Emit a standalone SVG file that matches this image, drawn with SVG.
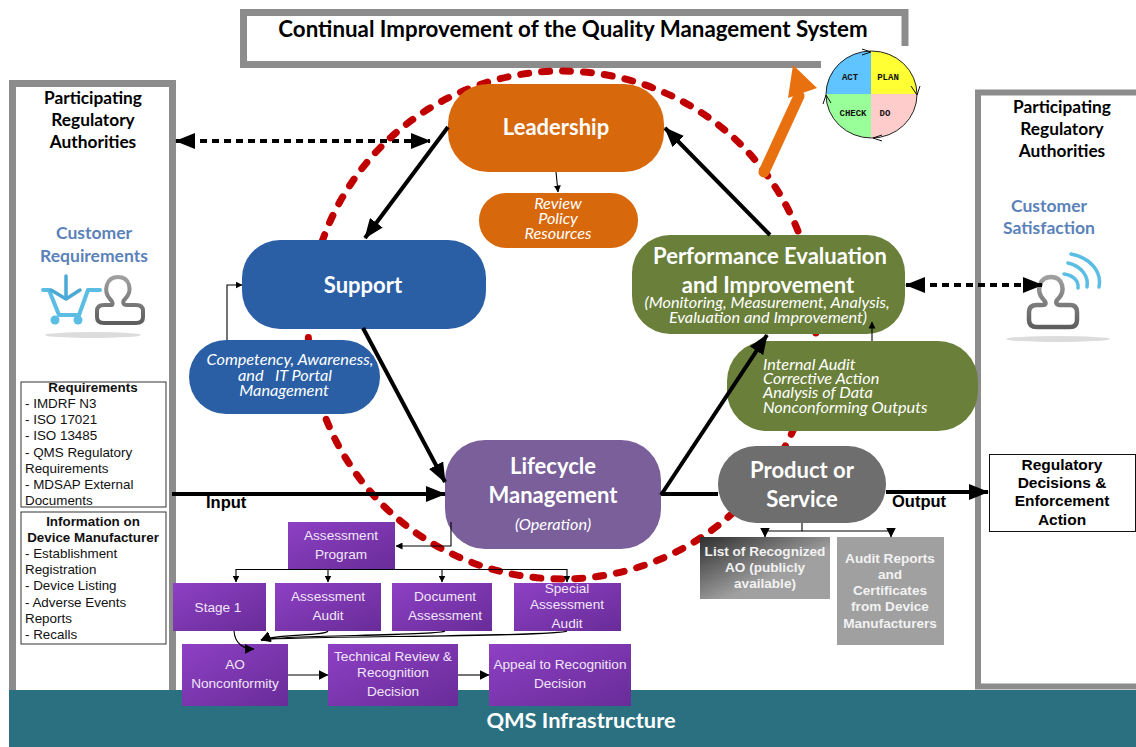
<svg xmlns="http://www.w3.org/2000/svg" width="1136" height="747" viewBox="0 0 1136 747">
<style>
.c{font-family:Lato,"Open Sans",sans-serif;text-anchor:middle}
.a{font-family:"Liberation Sans",Arial,sans-serif}
.m{text-anchor:middle}
.b{font-weight:700}
.i{font-style:italic;font-size:16.300px;fill:#fff}
.big{font-weight:700;font-size:22px;fill:#fff}
.blue{font-weight:700;font-size:17.500px;fill:#5b82b8}
.reg{font-weight:700;font-size:17.300px;fill:#000}
.box{fill:url(#pg)}
.pt{font-size:13.600px;fill:#f0e6f8;text-anchor:middle}
.lst{font-size:13.400px;fill:#111}
.frame{fill:#fff;stroke:#8c8c8c;stroke-width:7}
.thick{stroke:#000;stroke-width:4;fill:none}
.thin{stroke:#000;stroke-width:1.100;fill:none}
.tb{fill:#fff;stroke:#333;stroke-width:1}
.pdca{font-family:"Liberation Mono",monospace;font-size:9px;font-weight:700;text-anchor:middle;fill:#111}
</style>
<defs>
<linearGradient id="pg" x1="0" y1="0" x2="1" y2="1"><stop offset="0" stop-color="#8e40c4"/><stop offset="1" stop-color="#682c98"/></linearGradient>
<linearGradient id="gg" x1="0" y1="0" x2="1" y2="1"><stop offset="0" stop-color="#2e2e2e"/><stop offset="0.6" stop-color="#a0a0a0"/><stop offset="1" stop-color="#a0a0a0"/></linearGradient>
<linearGradient id="pers" x1="0" y1="0" x2="0" y2="1"><stop offset="0" stop-color="#a0a0a0"/><stop offset="1" stop-color="#5e5e5e"/></linearGradient>
<marker id="big" markerUnits="userSpaceOnUse" viewBox="0 0 20 16" refX="19" refY="8" markerWidth="20" markerHeight="16" orient="auto-start-reverse"><path d="M0 0L20 8L0 16Z"/></marker>
<marker id="mid" markerUnits="userSpaceOnUse" viewBox="0 0 10 10" refX="9.500" refY="5" markerWidth="10" markerHeight="10" orient="auto-start-reverse"><path d="M0 0L10 5L0 10Z"/></marker>
<marker id="sm" markerUnits="userSpaceOnUse" viewBox="0 0 7 7" refX="6.500" refY="3.500" markerWidth="7" markerHeight="7" orient="auto"><path d="M0 0L7 3.500L0 7Z"/></marker>
</defs>
<rect width="1136" height="747" fill="#fff"/>
<g id="title"><path d="M905 46V12.500H243.500V64.500H821" fill="none" stroke="#8c8c8c" stroke-width="7"/>
<text class="c b" x="573" y="37" font-size="22.300">Continual Improvement of the Quality Management System</text></g>
<g id="left-panel"><rect class="frame" x="12.500" y="83.500" width="160" height="610"/>
<text class="c reg" x="93" y="104">Participating</text><text class="c reg" x="93" y="126">Regulatory</text><text class="c reg" x="93" y="148">Authorities</text>
<text class="c blue" x="94" y="239">Customer</text><text class="c blue" x="94" y="262">Requirements</text>
<ellipse cx="93" cy="335" rx="48" ry="3" fill="#dcdcdc"/>
<g fill="none" stroke-linecap="round" stroke-linejoin="round"><path d="M43 290H49L59 315H79L88 290H100" stroke="#5bbde4" stroke-width="4"/><path d="M66 276V296" stroke="#4aa9d6" stroke-width="3.500"/><path d="M51 290L66 299L80 290" stroke="#4aa9d6" stroke-width="3.500"/><path d="M112 305H104Q97 305 97 311V317Q97 323 104 323H136Q143 323 143 317V311Q143 305 136 305H127C123 305 122 302 125 299C133 291 130 277 118 277C106 277 103 291 110 299C113 302 114 305 110 305" stroke="url(#pers)" stroke-width="4"/></g>
<circle cx="55" cy="320" r="4.500" fill="#5bbde4"/><circle cx="78" cy="320" r="4.500" fill="#5bbde4"/></g>
<g id="right-panel"><path d="M1136 92.500H978V686.500H1136" fill="#fff" stroke="#8c8c8c" stroke-width="6"/>
<text class="c reg" x="1062" y="113">Participating</text><text class="c reg" x="1062" y="135">Regulatory</text><text class="c reg" x="1062" y="157">Authorities</text>
<text class="c blue" x="1049" y="212">Customer</text><text class="c blue" x="1049" y="234">Satisfaction</text>
<ellipse cx="1058" cy="339" rx="52" ry="3" fill="#dcdcdc"/>
<path d="M1042 305H1037Q1029 305 1029 312V320Q1029 327 1037 327H1070Q1077 327 1077 320V312Q1077 305 1070 305H1060C1056 305 1055 302 1058 299C1066 291 1063 277 1051 277C1039 277 1036 291 1043 299C1046 302 1047 305 1042 305" fill="none" stroke="url(#pers)" stroke-width="4.500" stroke-linejoin="round"/>
<g fill="none" stroke="#5bbde4" stroke-width="3.500" stroke-linecap="round"><path d="M1064 274C1073 275 1079 281 1078 288"/><path d="M1068 263C1081 266 1089 276 1087 287"/><path d="M1071 254C1091 258 1102 272 1099 287"/></g></g>
<rect id="infrastructure-band" x="9" y="690" width="1127" height="57" fill="#2a7080"/>
<g id="pdca"><path d="M871 94V51A45 43 0 0 0 826 94Z" fill="#5fc4ff"/><path d="M871 94V51A45 43 0 0 1 917 94Z" fill="#ffff33"/><path d="M871 94V138A45 44 0 0 1 826 94Z" fill="#99ff99"/><path d="M871 94V138A46 44 0 0 0 917 94Z" fill="#ffcccc"/>
<ellipse cx="871.500" cy="94.500" rx="45.500" ry="43.500" fill="none" stroke="#222" stroke-width="1"/>
<path d="M862 49L871 52L862 55M911 86L917 95L920 86M882 135L873 138L882 141M823 104L826 95L831 103" fill="none" stroke="#111" stroke-width="1"/>
<text class="pdca" x="850" y="80">ACT</text><text class="pdca" x="888" y="80">PLAN</text><text class="pdca" x="853" y="116">CHECK</text><text class="pdca" x="885" y="116">DO</text></g>
<g id="connectors-back"><path class="thick" stroke-dasharray="7 5" d="M176 141H430" marker-start="url(#big)" marker-end="url(#big)"/>
<circle cx="562" cy="325" r="254" fill="none" stroke="#c00000" stroke-width="7" stroke-dasharray="8 13" stroke-linecap="round"/></g>
<g id="pdca-arrow"><line x1="764" y1="172" x2="799" y2="96" stroke="#e9700f" stroke-width="11" stroke-linecap="round"/><path d="M793 65L817 88L788 98Z" fill="#e9700f"/></g>
<g id="leadership"><rect x="448" y="84" width="216" height="88" rx="40" fill="#d8680c"/><text class="c big" x="556" y="135">Leadership</text></g>
<g id="review"><rect x="479" y="193" width="159" height="55" rx="27" fill="#d8680c"/><text class="c i" x="558" y="209">Review</text><text class="c i" x="558" y="224">Policy</text><text class="c i" x="558" y="239">Resources</text></g>
<g id="support"><rect x="242" y="240" width="244" height="89" rx="38" fill="#2a5fa6"/><text class="c big" x="363" y="293">Support</text></g>
<g id="competency"><rect x="189" y="340" width="191" height="74" rx="37" fill="#2a5fa6"/><text class="c i" x="290" y="365">Competency, Awareness,</text><text class="c i" x="285" y="381" xml:space="preserve">and   IT Portal</text><text class="c i" x="284" y="396">Management</text></g>
<g id="performance"><rect x="632" y="235" width="273" height="99" rx="38" fill="#6a7f3a"/><text class="c big" x="770" y="264">Performance Evaluation</text><text class="c big" x="768" y="293">and Improvement</text><text class="c i" x="767" y="308">(Monitoring, Measurement, Analysis,</text><text class="c i" x="768" y="323">Evaluation and Improvement)</text></g>
<g id="internal-audit"><rect x="727" y="341" width="251" height="90" rx="40" fill="#6a7f3a"/><g class="i" font-family="Lato,sans-serif"><text x="763" y="370">Internal Audit</text><text x="763" y="384">Corrective Action</text><text x="763" y="398">Analysis of Data</text><text x="763" y="413">Nonconforming Outputs</text></g></g>
<g id="lifecycle"><rect x="445" y="440" width="216" height="109" rx="40" fill="#7a5f9a"/><text class="c big" x="553" y="474">Lifecycle</text><text class="c big" x="553" y="503">Management</text><text class="c i" x="553" y="530">(Operation)</text></g>
<g id="product"><rect x="718" y="446" width="168" height="77" rx="38" fill="#6e6e6e"/><text class="c big" x="802" y="478">Product or</text><text class="c big" x="802" y="507">Service</text></g>
<text class="c" x="581" y="728" font-size="21.800" font-weight="700" fill="#fff">QMS Infrastructure</text>
<g id="requirements"><rect class="tb" x="21" y="382" width="145" height="125"/><g class="a lst"><text class="b m" x="93" y="392">Requirements</text><text x="25" y="408">- IMDRF N3</text><text x="25" y="424">- ISO 17021</text><text x="25" y="440">- ISO 13485</text><text x="25" y="457">- QMS Regulatory</text><text x="25" y="473">Requirements</text><text x="25" y="489">- MDSAP External</text><text x="25" y="505">Documents</text></g></g>
<g id="information"><rect class="tb" x="21" y="512" width="145" height="132"/><g class="a lst"><text class="b m" x="93" y="526">Information on</text><text class="b m" x="93" y="542">Device Manufacturer</text><text x="25" y="558">- Establishment</text><text x="25" y="574">Registration</text><text x="25" y="590">- Device Listing</text><text x="25" y="607">- Adverse Events</text><text x="25" y="623">Reports</text><text x="25" y="639">- Recalls</text></g></g>
<g id="assessment-program"><rect class="box" x="288" y="522" width="107" height="48"/><g class="a pt"><text x="341" y="540">Assessment</text><text x="341" y="559">Program</text></g></g>
<g id="stage-1"><rect class="box" x="173" y="583" width="93" height="48"/><text class="a pt" x="218" y="612">Stage 1</text></g>
<g id="assessment-audit"><rect class="box" x="275" y="583" width="106" height="48"/><g class="a pt"><text x="328" y="601">Assessment</text><text x="328" y="620">Audit</text></g></g>
<g id="document-assessment"><rect class="box" x="392" y="583" width="100" height="48"/><g class="a pt"><text x="445" y="601">Document</text><text x="445" y="620">Assessment</text></g></g>
<g id="special-audit"><rect class="box" x="514" y="583" width="107" height="48"/><g class="a pt"><text x="567" y="593">Special</text><text x="567" y="609">Assessment</text><text x="567" y="628">Audit</text></g></g>
<g id="ao-nonconformity"><rect class="box" x="182" y="644" width="106" height="62"/><g class="a pt"><text x="235" y="669">AO</text><text x="235" y="688">Nonconformity</text></g></g>
<g id="technical-review"><rect class="box" x="328" y="644" width="130" height="62"/><g class="a pt"><text x="393" y="661">Technical Review &amp;</text><text x="393" y="677">Recognition</text><text x="393" y="696">Decision</text></g></g>
<g id="appeal"><rect class="box" x="489" y="644" width="142" height="62"/><g class="a pt"><text x="560" y="669">Appeal to Recognition</text><text x="560" y="688">Decision</text></g></g>
<g id="list-ao"><rect x="700" y="537" width="130" height="62" fill="url(#gg)"/><g class="a m b" font-size="13.600" fill="#f2f2f2"><text x="765" y="556">List of Recognized</text><text x="765" y="572">AO (publicly</text><text x="765" y="588">available)</text></g></g>
<g id="audit-reports"><rect x="837" y="537" width="107" height="108" fill="#a0a0a0"/><g class="a m b" font-size="13.600" fill="#f2f2f2"><text x="890" y="563">Audit Reports</text><text x="890" y="579">and</text><text x="890" y="595">Certificates</text><text x="890" y="611">from Device</text><text x="890" y="628">Manufacturers</text></g></g>
<g id="regulatory"><rect x="989.500" y="454.500" width="146" height="77" fill="#fff" stroke="#111" stroke-width="1"/><g class="a m b" font-size="15.500" fill="#000"><text x="1062" y="470">Regulatory</text><text x="1062" y="488">Decisions &amp;</text><text x="1062" y="506">Enforcement</text><text x="1062" y="525">Action</text></g></g>
<g id="connectors">
<path class="thick" stroke-dasharray="7 5" d="M906 285H1042" marker-start="url(#big)" marker-end="url(#big)"/>
<path class="thick" d="M448 127L365 238" marker-end="url(#big)"/>
<path class="thick" d="M363 328L445 482" marker-end="url(#big)"/>
<path class="thick" d="M661 495L767 335" marker-end="url(#big)"/>
<path class="thick" d="M770 235L665 128" marker-end="url(#big)"/>
<path class="thick" d="M172 494H445" marker-end="url(#big)"/>
<path class="thick" d="M661 494H718"/>
<path class="thick" d="M886 492H988" marker-end="url(#big)"/>
<path class="thin" d="M556 172L558 192" marker-end="url(#sm)"/>
<path class="thin" d="M227 340V285H242" marker-end="url(#sm)"/>
<path class="thin" d="M872 341V322" marker-end="url(#sm)"/>
<path class="thin" d="M451 522V546H396" marker-end="url(#sm)"/>
<path class="thin" d="M341 569.500H567M341 569.500H236V582" marker-end="url(#sm)"/>
<path class="thin" d="M328 569V582" marker-end="url(#sm)"/>
<path class="thin" d="M442 569V582" marker-end="url(#sm)"/>
<path class="thin" d="M567 569V582" marker-end="url(#sm)"/>
<path class="thin" d="M802 523V531H765V537" marker-end="url(#mid)"/>
<path class="thin" d="M802 531H891V537" marker-end="url(#mid)"/>
<path class="thin" d="M234 631C235 645 245 649 254 649" marker-end="url(#mid)"/>
<path class="thin" d="M328 631C326 636 275 634 261 640" marker-end="url(#mid)"/>
<path class="thin" d="M445 631C440 636 275 635 261 640" marker-end="url(#mid)"/>
<path class="thin" d="M567 631C560 637 275 636 261 640" marker-end="url(#mid)"/>
<path class="thin" d="M288 675H328" marker-end="url(#mid)"/>
<path class="thin" d="M458 675H489" marker-end="url(#mid)"/>
</g>
<text class="a b" x="206" y="508" font-size="16.500">Input</text>
<text class="a b" x="892" y="507" font-size="16.500">Output</text>
</svg>
